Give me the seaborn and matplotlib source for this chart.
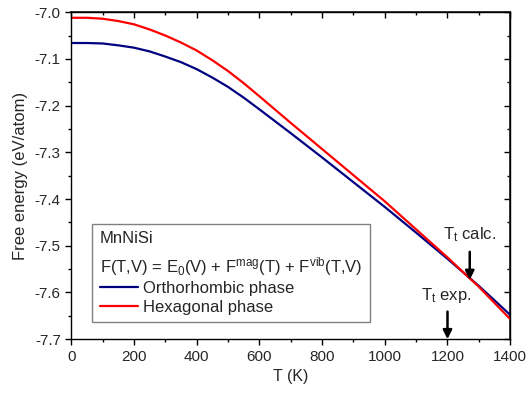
import numpy as np
import pandas as pd
import seaborn as sns
import matplotlib
matplotlib.use("Agg")
import matplotlib.pyplot as plt
from matplotlib.ticker import MultipleLocator

# ---------- data ----------
temps = [0, 50, 100, 150, 200, 250, 300, 350, 400, 450, 500, 550, 600,
         700, 800, 900, 1000, 1100, 1200, 1300, 1400]
f_ortho = [-7.066, -7.066, -7.067, -7.071, -7.076, -7.084, -7.095, -7.107,
           -7.122, -7.140, -7.160, -7.183, -7.208,
           -7.259, -7.311, -7.364, -7.417, -7.472, -7.528, -7.586, -7.648]
f_hex = [-7.012, -7.012, -7.014, -7.019, -7.026, -7.037, -7.050, -7.065,
         -7.082, -7.103, -7.126, -7.152, -7.180,
         -7.237, -7.293, -7.349, -7.405, -7.465, -7.525, -7.588, -7.657]
phases = ["Orthorhombic phase", "Hexagonal phase"]
colors = ["#000080", "#ff0000"]

x_ticks = [0, 200, 400, 600, 800, 1000, 1200, 1400]
y_ticks = [-7.7, -7.6, -7.5, -7.4, -7.3, -7.2, -7.1, -7.0]
y_labels = ["-7.7", "-7.6", "-7.5", "-7.4", "-7.3", "-7.2", "-7.1", "-7.0"]

t_calc = (1271, -7.573)
t_exp = 1200

df = pd.concat([
    pd.DataFrame({"T": temps, "F": f_ortho, "phase": phases[0]}),
    pd.DataFrame({"T": temps, "F": f_hex, "phase": phases[1]}),
])

sns.set_theme(style="ticks")
plt.rcParams["font.family"] = ["Liberation Sans", "DejaVu Sans"]
plt.rcParams["mathtext.fontset"] = "custom"
plt.rcParams["mathtext.rm"] = "Liberation Sans"
plt.rcParams["mathtext.it"] = "Liberation Sans"
plt.rcParams["mathtext.default"] = "regular"
plt.rcParams["axes.unicode_minus"] = False

fig, ax = plt.subplots(figsize=(5.32, 3.93), dpi=100)
fig.subplots_adjust(left=0.134, right=0.959, top=0.969, bottom=0.137)

sns.lineplot(data=df, x="T", y="F", hue="phase", palette=colors,
             linewidth=1.6, ax=ax)

ax.set_xlim(0, 1400)
ax.set_ylim(-7.7, -7.0)
ax.set_xticks(x_ticks)
ax.set_yticks(y_ticks)
ax.set_yticklabels(y_labels)
ax.xaxis.set_minor_locator(MultipleLocator(100))
ax.yaxis.set_minor_locator(MultipleLocator(0.05))
ax.tick_params(which="both", direction="out", color="black", width=1,
               labelsize=11, pad=3)
ax.tick_params(which="major", length=4.5)
ax.tick_params(which="minor", length=2.5)
for sp in ax.spines.values():
    sp.set_color("black")
    sp.set_linewidth(1)

# mirrored ticks on top / right, pointing inwards
sec_x = ax.secondary_xaxis("top")
sec_x.set_xticks(x_ticks)
sec_x.xaxis.set_minor_locator(MultipleLocator(100))
sec_x.tick_params(which="both", direction="in", labeltop=False, color="black", width=1)
sec_x.tick_params(which="major", length=4.5)
sec_x.tick_params(which="minor", length=2.5)
sec_y = ax.secondary_yaxis("right")
sec_y.set_yticks(y_ticks)
sec_y.yaxis.set_minor_locator(MultipleLocator(0.05))
sec_y.tick_params(which="both", direction="in", labelright=False, color="black", width=1)
sec_y.tick_params(which="major", length=4.5)
sec_y.tick_params(which="minor", length=2.5)

ax.set_xlabel("T (K)", fontsize=11.5, labelpad=4)
ax.set_ylabel("Free energy (eV/atom)", fontsize=12, labelpad=5)

handles, labels = ax.get_legend_handles_labels()
leg = ax.legend(handles, labels, loc="lower left", bbox_to_anchor=(0.048, 0.052),
                borderaxespad=0,
                title="MnNiSi\nF(T,V) = E$_0$(V) + F$^{mag}$(T) + F$^{vib}$(T,V)",
                alignment="left", fontsize=12, title_fontsize=12,
                handlelength=2.3, handletextpad=0.3, labelspacing=0.2,
                borderpad=0.45, fancybox=False, framealpha=1, edgecolor="#808080")
leg.get_title().set_linespacing(1.5)
leg.get_frame().set_linewidth(1)
for line in leg.get_lines():
    line.set_linewidth(1.6)

arrow = dict(arrowstyle="-|>", color="black", lw=1.8, mutation_scale=13,
             shrinkA=0, shrinkB=0)
ax.annotate("", xy=t_calc, xytext=(t_calc[0], t_calc[1] + 0.06), arrowprops=arrow)
ax.text(t_calc[0], t_calc[1] + 0.076, "T$_t$ calc.", ha="center", va="bottom",
        fontsize=12)
ax.annotate("", xy=(t_exp, -7.7), xytext=(t_exp, -7.641), arrowprops=arrow,
            annotation_clip=False)
ax.text(t_exp - 5, -7.627, "T$_t$ exp.", ha="center", va="bottom", fontsize=12)

fig.savefig("out.png", dpi=100)
